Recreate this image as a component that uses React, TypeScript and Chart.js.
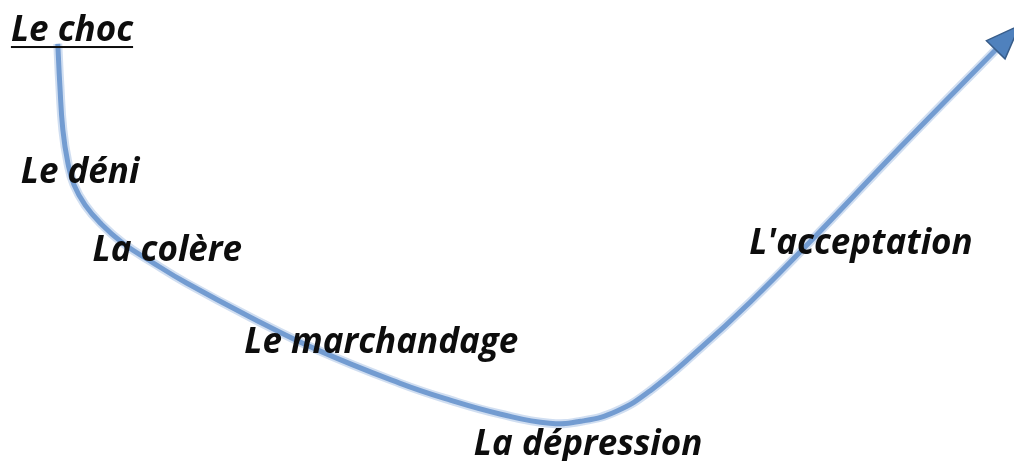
import React, { useEffect, useRef } from "react";
import { Chart, registerables } from "chart.js";

Chart.register(...registerables);

// Time axis (0–10) and mood axis (0–10)
const curveTime = [0.57, 0.59, 0.62, 0.67, 0.73, 0.84, 0.99, 1.21, 1.51, 1.84, 2.47, 3.13, 3.94, 4.44, 4.93, 5.42, 5.75, 6.08, 6.41, 6.9, 7.4, 7.96, 8.88, 9.82];
const curveMood = [9.05, 8.16, 7.18, 6.46, 5.99, 5.55, 5.16, 4.73, 4.3, 3.86, 3.12, 2.41, 1.69, 1.32, 1.02, 0.82, 0.87, 1.08, 1.52, 2.43, 3.45, 4.69, 6.81, 8.92];

// Stage names and where they sit (time, mood) – text centre / baseline
const stageNames = ["Le choc", "Le déni", "La colère", "Le marchandage", "La dépression", "L'acceptation"];
const stageTime = [0.71, 0.79, 1.65, 3.76, 5.8, 8.49];
const stageMood = [9.11, 6.03, 4.34, 2.34, 0.13, 4.5];

const FONT = "italic bold 35px 'Open Sans', Lato, sans-serif";

const stagePlugin = {
  id: "stages",
  afterDatasetsDraw(chart: any) {
    const { ctx, scales } = chart;
    const xs = scales.x;
    const ys = scales.y;
    // arrow head at end of curve
    const n = curveTime.length;
    const px1 = xs.getPixelForValue(curveTime[n - 2]);
    const py1 = ys.getPixelForValue(curveMood[n - 2]);
    const px2 = xs.getPixelForValue(curveTime[n - 1]);
    const py2 = ys.getPixelForValue(curveMood[n - 1]);
    const ang = Math.atan2(py2 - py1, px2 - px1);
    const len = 34;
    const hw = 13;
    const tipX = px2 + Math.cos(ang) * len;
    const tipY = py2 + Math.sin(ang) * len;
    const nx = -Math.sin(ang);
    const ny = Math.cos(ang);
    ctx.save();
    ctx.beginPath();
    ctx.moveTo(tipX, tipY);
    ctx.lineTo(px2 + nx * hw, py2 + ny * hw);
    ctx.lineTo(px2 - nx * hw, py2 - ny * hw);
    ctx.closePath();
    ctx.fillStyle = "#4f81bd";
    ctx.fill();
    ctx.lineWidth = 1.5;
    ctx.strokeStyle = "#385d8a";
    ctx.stroke();

    // labels
    ctx.font = FONT;
    ctx.fillStyle = "#0d0d0d";
    ctx.textAlign = "center";
    ctx.textBaseline = "alphabetic";
    stageNames.forEach((name, i) => {
      const x = xs.getPixelForValue(stageTime[i]);
      const y = ys.getPixelForValue(stageMood[i]);
      ctx.fillText(name, x, y);
      if (i === 0) {
        const w = ctx.measureText(name).width;
        ctx.fillRect(x - w / 2, y + 5, w, 2);
      }
    });
    ctx.restore();
  },
};

export default function App() {
  const ref = useRef<HTMLCanvasElement>(null);
  useEffect(() => {
    document.body.style.margin = "0";
    const points = curveTime.map((t, i) => ({ x: t, y: curveMood[i] }));
    const chart = new Chart(ref.current!, {
      type: "line",
      data: {
        datasets: [
          {
            data: points,
            borderColor: "rgba(150,182,225,0.45)",
            borderWidth: 9,
            pointRadius: 0,
            tension: 0.45,
            clip: false,
          } as any,
          {
            data: points,
            borderColor: "#5787c5",
            borderWidth: 5,
            pointRadius: 0,
            tension: 0.45,
            clip: false,
          } as any,
        ],
      },
      options: {
        animation: false,
        responsive: false,
        maintainAspectRatio: false,
        layout: { padding: 0 },
        plugins: { legend: { display: false }, tooltip: { enabled: false } },
        scales: {
          x: { type: "linear", min: 0, max: 10, display: false },
          y: { type: "linear", min: 0, max: 10, display: false },
        },
      },
      plugins: [stagePlugin],
    });
    return () => chart.destroy();
  }, []);
  return (
    <div style={{ position: "fixed", left: 0, top: 0, width: 1014, height: 461, background: "#fff" }}>
      <canvas ref={ref} width={1014} height={461} style={{ display: "block" }} />
    </div>
  );
}
